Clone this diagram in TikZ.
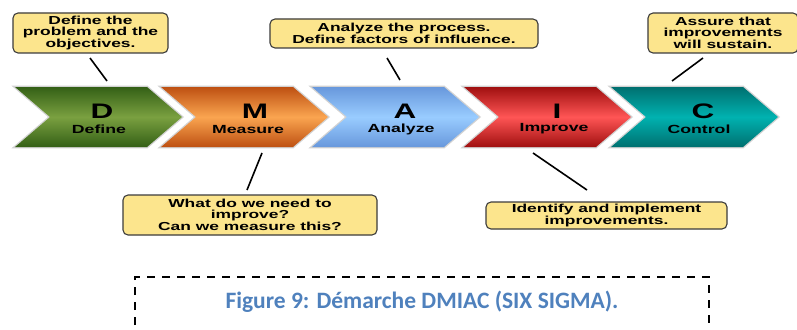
\documentclass[tikz,border=0pt]{standalone}
\usepackage{fontspec}
\newfontfamily\widebf[FakeStretch=1.5]{Liberation Sans Bold}
\newfontfamily\capfont{Carlito}
\definecolor{noteyellow}{RGB}{252,229,141}
\definecolor{noteedge}{RGB}{60,60,60}
\definecolor{capblue}{RGB}{79,129,189}
\definecolor{gdark}{RGB}{52,96,22}
\definecolor{glight}{RGB}{122,160,64}
\definecolor{odark}{RGB}{190,80,18}
\definecolor{olight}{RGB}{250,165,80}
\definecolor{bdark}{RGB}{104,152,220}
\definecolor{blight}{RGB}{153,204,255}
\definecolor{rdark}{RGB}{160,16,16}
\definecolor{rlight}{RGB}{255,85,85}
\definecolor{tdark}{RGB}{0,112,112}
\definecolor{tlight}{RGB}{0,178,176}
\tikzset{
  note/.style={draw=noteedge, line width=1.1pt, fill=noteyellow, rounded corners=5pt,
    inner sep=0pt, align=center, font=\widebf\fontsize{11.6}{10.6}\selectfont},
  leader/.style={line width=1.6pt, black},
  letter/.style={font=\widebf\fontsize{21}{21}\selectfont, inner sep=0pt},
  stage/.style={font=\widebf\fontsize{11.8}{11.8}\selectfont, inner sep=0pt},
}
% chevron with left corner x0, rows 87..147
\newcommand{\chev}[4]{%
  \draw[gray!35, line width=2.6pt, line join=miter]
    (#1,87) -- ++(132,0) -- ++(35,30) -- ++(-35,30) -- ++(-132,0) -- ++(35,-30) -- cycle;
  \shade[top color=#2, bottom color=#2, middle color=#3]
    (#1,87) -- ++(132,0) -- ++(35,30) -- ++(-35,30) -- ++(-132,0) -- ++(35,-30) -- cycle;
  \coordinate (#4) at (#1,117);
}
\begin{document}
\begin{tikzpicture}[x=1pt,y=-1pt]
\clip (0,0) rectangle (797,329);
\fill[white] (0,0) rectangle (797,329);

% process chevrons
\chev{15}{gdark}{glight}{cD}
\chev{161}{odark}{olight}{cM}
\chev{312}{bdark}{blight}{cA}
\chev{464}{rdark}{rlight}{cI}
\chev{611}{tdark}{tlight}{cC}

\node[letter] (lD) at (102,111) {D};
\node[stage]  (sD) at (99,129) {Define};
\node[letter] (lM) at (255,111) {M};
\node[stage]  (sM) at (248,129) {Measure};
\node[letter] (lA) at (405,111) {A};
\node[stage]  (sA) at (401,129) {Analyze};
\node[letter] (lI) at (557,111) {I};
\node[stage]  (sI) at (554,129) {Improve};
\node[letter] (lC) at (703,111) {C};
\node[stage]  (sC) at (699,129) {Control};

% callouts
\node[note, minimum width=155pt, minimum height=40pt] (nD) at (90.5,33)
  {Define the\\problem and the\\objectives.};
\node[note, minimum width=268pt, minimum height=29pt] (nA) at (404,33.5)
  {Analyze the process.\\Define factors of influence.};
\node[note, minimum width=150pt, minimum height=40pt] (nC) at (723,33)
  {Assure that\\improvements\\will sustain.};
\node[note, minimum width=254pt, minimum height=40pt] (nM) at (250,215)
  {What do we need to\\improve?\\Can we measure this?};
\node[note, minimum width=241pt, minimum height=27pt] (nI) at (606.5,215.5)
  {Identify and implement\\improvements.};

% leader lines
\coordinate (fD) at (90,58);   \coordinate (tD) at (107,81);
\coordinate (fA) at (387,58);  \coordinate (tA) at (400,80);
\coordinate (fC) at (703,58);  \coordinate (tC) at (672,81);
\coordinate (fM) at (247,190); \coordinate (tM) at (262,153);
\coordinate (fI) at (587,190); \coordinate (tI) at (533,153);
\draw[leader] (fD) -- (tD);
\draw[leader] (fA) -- (tA);
\draw[leader] (fC) -- (tC);
\draw[leader] (fM) -- (tM);
\draw[leader] (fI) -- (tI);

% caption frame
\draw[line width=2pt, dash pattern=on 8pt off 7pt] (135,340) -- (135,277) -- (709,277) -- (709,340);
\node[font=\capfont\bfseries\fontsize{23.5}{23.5}\selectfont, text=capblue, inner sep=0pt]
  (cap) at (422,302) {Figure 9: Démarche DMIAC (SIX SIGMA).};
\end{tikzpicture}
\end{document}
